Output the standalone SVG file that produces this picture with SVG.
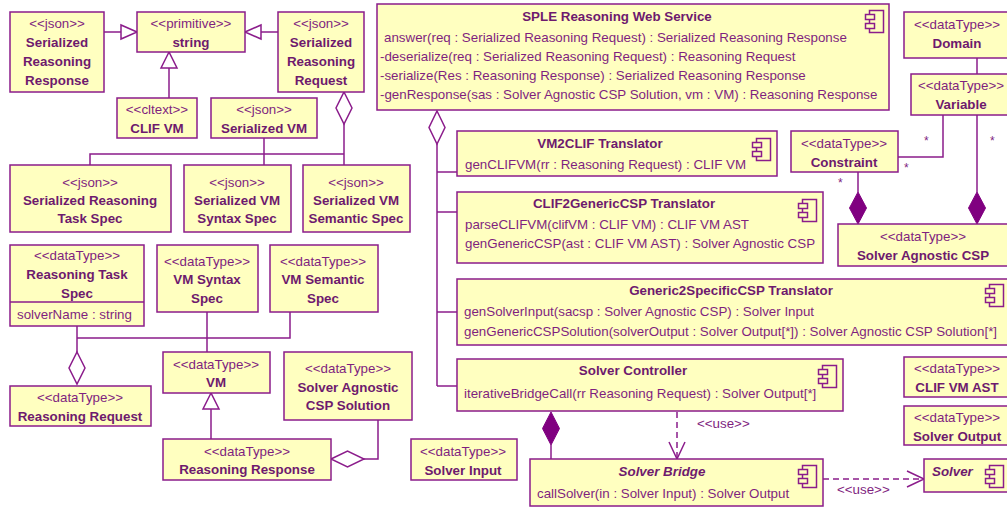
<svg xmlns="http://www.w3.org/2000/svg" xmlns:xlink="http://www.w3.org/1999/xlink" width="1007" height="507" viewBox="0 0 1007 507">
<style>
.box{fill:#FFFFC0;stroke:#8B1C8B;stroke-width:1.5}
.t{font-family:"Liberation Sans",Arial,sans-serif;font-size:13.35px;fill:#7F1F7F}
.c{text-anchor:middle}
.b{font-weight:bold;fill:#6E1A6E}
.i{font-style:italic}
.ln{stroke:#8B1C8B;stroke-width:1.5;fill:none}
.dash{stroke-dasharray:6 4}
.hol{fill:#FFFFFF;stroke:#8B1C8B;stroke-width:1.5}
.fil{fill:#800080;stroke:#800080;stroke-width:1}
.m{font-family:"Liberation Sans",Arial,sans-serif;font-size:12px;fill:#7F1F7F}
</style>
<defs>
<symbol id="comp" viewBox="0 0 19 23" width="19" height="23" overflow="visible">
<rect x="4.5" y="0.5" width="14" height="22" fill="#FFFFC0" stroke="#8B1C8B" stroke-width="1.5"/>
<rect x="0.5" y="4.5" width="9" height="5" fill="#FFFFC0" stroke="#8B1C8B" stroke-width="1.5"/>
<rect x="0.5" y="13.5" width="9" height="5" fill="#FFFFC0" stroke="#8B1C8B" stroke-width="1.5"/>
</symbol>
</defs>
<rect width="1007" height="507" fill="#FFFFFF"/>

<g id="connectors">
<line class="ln" x1="104" y1="32" x2="121" y2="32"/>
<polygon class="hol" points="137,32 121,25 121,39"/>
<line class="ln" x1="278" y1="32" x2="261" y2="32"/>
<polygon class="hol" points="245,32 261,25 261,39"/>
<line class="ln" x1="169" y1="98" x2="169" y2="68"/>
<polygon class="hol" points="169,52 161,68 177,68"/>
<polygon class="hol" points="344,92 352,108 344,124 336,108"/>
<polyline class="ln" points="344,124 344,165"/>
<polyline class="ln" points="90,165 90,154 344,154"/>
<line class="ln" x1="264" y1="138" x2="264" y2="165"/>
<polygon class="hol" points="437,111 445,127.5 437,144 429,127.5"/>
<line class="ln" x1="437" y1="144" x2="437" y2="386"/>
<line class="ln" x1="437" y1="172" x2="457" y2="172"/>
<line class="ln" x1="437" y1="212" x2="457" y2="212"/>
<line class="ln" x1="437" y1="312" x2="457" y2="312"/>
<line class="ln" x1="437" y1="386" x2="457" y2="386"/>
<line class="ln" x1="977" y1="58" x2="977" y2="74"/>
<polyline class="ln" points="943,115 943,157 898,157"/>
<text class="m" x="924" y="145">*</text>
<text class="m" x="904" y="172">*</text>
<line class="ln" x1="977" y1="115" x2="977" y2="192"/>
<polygon class="fil" points="977,192 985.5,208 977,224 968.5,208"/>
<text class="m" x="990" y="145">*</text>
<line class="ln" x1="858" y1="172" x2="858" y2="192"/>
<polygon class="fil" points="858,192 866.5,208 858,224 849.5,208"/>
<text class="m" x="838" y="187">*</text>
<line class="ln" x1="77" y1="326" x2="77" y2="352"/>
<polyline class="ln" points="77,338 290,338 290,312"/>
<line class="ln" x1="207" y1="312" x2="207" y2="352"/>
<polygon class="hol" points="77,352 85,368 77,384 69,368"/>
<line class="ln" x1="211" y1="439" x2="211" y2="409"/>
<polygon class="hol" points="211,393 203,409 219,409"/>
<polygon class="hol" points="331,459 347.5,451 364,459 347.5,467"/>
<polyline class="ln" points="364,459 378,459 378,420"/>
<polygon class="fil" points="551,412 559.5,428.5 551,445 542.5,428.5"/>
<line class="ln" x1="551" y1="445" x2="551" y2="459"/>
<line class="ln dash" x1="677" y1="412" x2="677" y2="458"/>
<polyline class="ln" points="669,442 677,459 685,442"/>
<text class="t" x="697" y="428">&lt;&lt;use&gt;&gt;</text>
<line class="ln dash" x1="823" y1="479" x2="922" y2="479"/>
<polyline class="ln" points="907,471 924,479 907,487"/>
<text class="t" x="837" y="494">&lt;&lt;use&gt;&gt;</text>
</g>

<g id="n-serialized-reasoning-response">
<rect class="box" x="10" y="12" width="94" height="80"/>
<text class="t c" x="57" y="28">&lt;&lt;json&gt;&gt;</text>
<text class="t c b" x="57" y="47">Serialized</text>
<text class="t c b" x="57" y="66">Reasoning</text>
<text class="t c b" x="57" y="85">Response</text>
</g>
<g id="n-string">
<rect class="box" x="137" y="12" width="108" height="40"/>
<text class="t c" x="191" y="28">&lt;&lt;primitive&gt;&gt;</text>
<text class="t c b" x="191" y="47">string</text>
</g>
<g id="n-serialized-reasoning-request">
<rect class="box" x="278" y="12" width="86" height="80"/>
<text class="t c" x="321" y="28">&lt;&lt;json&gt;&gt;</text>
<text class="t c b" x="321" y="47">Serialized</text>
<text class="t c b" x="321" y="66">Reasoning</text>
<text class="t c b" x="321" y="85">Request</text>
</g>
<g id="n-clif-vm">
<rect class="box" x="117" y="98" width="80" height="40"/>
<text class="t c" x="157" y="114">&lt;&lt;cltext&gt;&gt;</text>
<text class="t c b" x="157" y="133">CLIF VM</text>
</g>
<g id="n-serialized-vm">
<rect class="box" x="211" y="98" width="106" height="40"/>
<text class="t c" x="264" y="114">&lt;&lt;json&gt;&gt;</text>
<text class="t c b" x="264" y="133">Serialized VM</text>
</g>
<g id="n-serialized-task-spec">
<rect class="box" x="10" y="165" width="161" height="67"/>
<text class="t c" x="90" y="187">&lt;&lt;json&gt;&gt;</text>
<text class="t c b" x="90" y="205">Serialized Reasoning</text>
<text class="t c b" x="90" y="223">Task Spec</text>
</g>
<g id="n-serialized-syntax-spec">
<rect class="box" x="184" y="165" width="107" height="67"/>
<text class="t c" x="237" y="187">&lt;&lt;json&gt;&gt;</text>
<text class="t c b" x="237" y="205">Serialized VM</text>
<text class="t c b" x="237" y="223">Syntax Spec</text>
</g>
<g id="n-serialized-semantic-spec">
<rect class="box" x="303" y="165" width="107" height="67"/>
<text class="t c" x="356" y="187">&lt;&lt;json&gt;&gt;</text>
<text class="t c b" x="356" y="205">Serialized VM</text>
<text class="t c b" x="356" y="223">Semantic Spec</text>
</g>

<g id="n-sple">
<rect class="box" x="377" y="4" width="512" height="106"/>
<text class="t c b" x="617" y="21">SPLE Reasoning Web Service</text>
<text class="t" x="384" y="42">answer(req : Serialized Reasoning Request) : Serialized Reasoning Response</text>
<text class="t" x="380" y="61">-deserialize(req : Serialized Reasoning Request) : Reasoning Request</text>
<text class="t" x="380" y="80">-serialize(Res : Reasoning Response) : Serialized Reasoning Response</text>
<text class="t" x="380" y="99">-genResponse(sas : Solver Agnostic CSP Solution, vm : VM) : Reasoning Response</text>
<use xlink:href="#comp" x="865" y="10"/>
</g>
<g id="n-vm2clif">
<rect class="box" x="457" y="131" width="320" height="45"/>
<text class="t c b" x="600" y="148">VM2CLIF Translator</text>
<text class="t" x="465" y="169">genCLIFVM(rr : Reasoning Request) : CLIF VM</text>
<use xlink:href="#comp" x="752" y="138"/>
</g>
<g id="n-clif2generic">
<rect class="box" x="457" y="192" width="366" height="71"/>
<text class="t c b" x="624" y="208">CLIF2GenericCSP Translator</text>
<text class="t" x="465" y="229">parseCLIFVM(clifVM : CLIF VM) : CLIF VM AST</text>
<text class="t" x="465" y="248">genGenericCSP(ast : CLIF VM AST) : Solver Agnostic CSP</text>
<use xlink:href="#comp" x="798" y="199"/>
</g>
<g id="n-generic2specific">
<rect class="box" x="457" y="279" width="560" height="66"/>
<text class="t c b" x="731" y="295">Generic2SpecificCSP Translator</text>
<text class="t" x="464" y="316">genSolverInput(sacsp : Solver Agnostic CSP) : Solver Input</text>
<text class="t" x="464" y="336">genGenericCSPSolution(solverOutput : Solver Output[*]) : Solver Agnostic CSP Solution[*]</text>
<use xlink:href="#comp" x="985" y="284"/>
</g>
<g id="n-solver-controller">
<rect class="box" x="457" y="359" width="386" height="52"/>
<text class="t c b" x="633" y="375">Solver Controller</text>
<text class="t" x="464" y="398">iterativeBridgeCall(rr Reasoning Request) : Solver Output[*]</text>
<use xlink:href="#comp" x="818" y="365"/>
</g>

<g id="n-domain">
<rect class="box" x="904" y="12" width="110" height="46"/>
<text class="t c" x="957" y="29">&lt;&lt;dataType&gt;&gt;</text>
<text class="t c b" x="957" y="48">Domain</text>
</g>
<g id="n-variable">
<rect class="box" x="911" y="74" width="105" height="41"/>
<text class="t c" x="961" y="90">&lt;&lt;dataType&gt;&gt;</text>
<text class="t c b" x="961" y="109">Variable</text>
</g>
<g id="n-constraint">
<rect class="box" x="791" y="131" width="107" height="41"/>
<text class="t c" x="844" y="148">&lt;&lt;dataType&gt;&gt;</text>
<text class="t c b" x="844" y="167">Constraint</text>
</g>
<g id="n-solver-agnostic-csp">
<rect class="box" x="838" y="224" width="176" height="42"/>
<text class="t c" x="923" y="241">&lt;&lt;dataType&gt;&gt;</text>
<text class="t c b" x="923" y="260">Solver Agnostic CSP</text>
</g>
<g id="n-clif-vm-ast">
<rect class="box" x="904" y="357" width="110" height="40"/>
<text class="t c" x="957" y="373">&lt;&lt;dataType&gt;&gt;</text>
<text class="t c b" x="957" y="392">CLIF VM AST</text>
</g>
<g id="n-solver-output">
<rect class="box" x="904" y="406" width="110" height="39"/>
<text class="t c" x="957" y="422">&lt;&lt;dataType&gt;&gt;</text>
<text class="t c b" x="957" y="441">Solver Output</text>
</g>
<g id="n-solver">
<rect class="box" x="924" y="459" width="90" height="33"/>
<text class="t b i" x="932" y="476">Solver</text>
<use xlink:href="#comp" x="985" y="465"/>
</g>
<g id="n-solver-bridge">
<rect class="box" x="530" y="459" width="293" height="47"/>
<text class="t c b i" x="662" y="476">Solver Bridge</text>
<text class="t" x="537" y="498">callSolver(in : Solver Input) : Solver Output</text>
<use xlink:href="#comp" x="798" y="465"/>
</g>
<g id="n-solver-input">
<rect class="box" x="411" y="439" width="106" height="41"/>
<text class="t c" x="463" y="456">&lt;&lt;dataType&gt;&gt;</text>
<text class="t c b" x="463" y="475">Solver Input</text>
</g>

<g id="n-reasoning-task-spec">
<rect class="box" x="10" y="245" width="134" height="81"/>
<line class="ln" x1="10" y1="302" x2="144" y2="302"/>
<text class="t c" x="77" y="260">&lt;&lt;dataType&gt;&gt;</text>
<text class="t c b" x="77" y="279">Reasoning Task</text>
<text class="t c b" x="77" y="298">Spec</text>
<text class="t" x="17" y="319">solverName : string</text>
</g>
<g id="n-vm-syntax-spec">
<rect class="box" x="157" y="245" width="101" height="67"/>
<text class="t c" x="207" y="266">&lt;&lt;dataType&gt;&gt;</text>
<text class="t c b" x="207" y="284">VM Syntax</text>
<text class="t c b" x="207" y="303">Spec</text>
</g>
<g id="n-vm-semantic-spec">
<rect class="box" x="270" y="245" width="108" height="67"/>
<text class="t c" x="323" y="266">&lt;&lt;dataType&gt;&gt;</text>
<text class="t c b" x="323" y="284">VM Semantic</text>
<text class="t c b" x="323" y="303">Spec</text>
</g>
<g id="n-reasoning-request">
<rect class="box" x="10" y="386" width="141" height="40"/>
<text class="t c" x="80" y="402">&lt;&lt;dataType&gt;&gt;</text>
<text class="t c b" x="80" y="421">Reasoning Request</text>
</g>
<g id="n-vm">
<rect class="box" x="163" y="352" width="107" height="41"/>
<text class="t c" x="216" y="369">&lt;&lt;dataType&gt;&gt;</text>
<text class="t c b" x="216" y="387">VM</text>
</g>
<g id="n-solver-agnostic-csp-solution">
<rect class="box" x="284" y="352" width="128" height="68"/>
<text class="t c" x="348" y="373">&lt;&lt;dataType&gt;&gt;</text>
<text class="t c b" x="348" y="392">Solver Agnostic</text>
<text class="t c b" x="348" y="410">CSP Solution</text>
</g>
<g id="n-reasoning-response">
<rect class="box" x="163" y="439" width="168" height="41"/>
<text class="t c" x="247" y="456">&lt;&lt;dataType&gt;&gt;</text>
<text class="t c b" x="247" y="474">Reasoning Response</text>
</g>
</svg>
